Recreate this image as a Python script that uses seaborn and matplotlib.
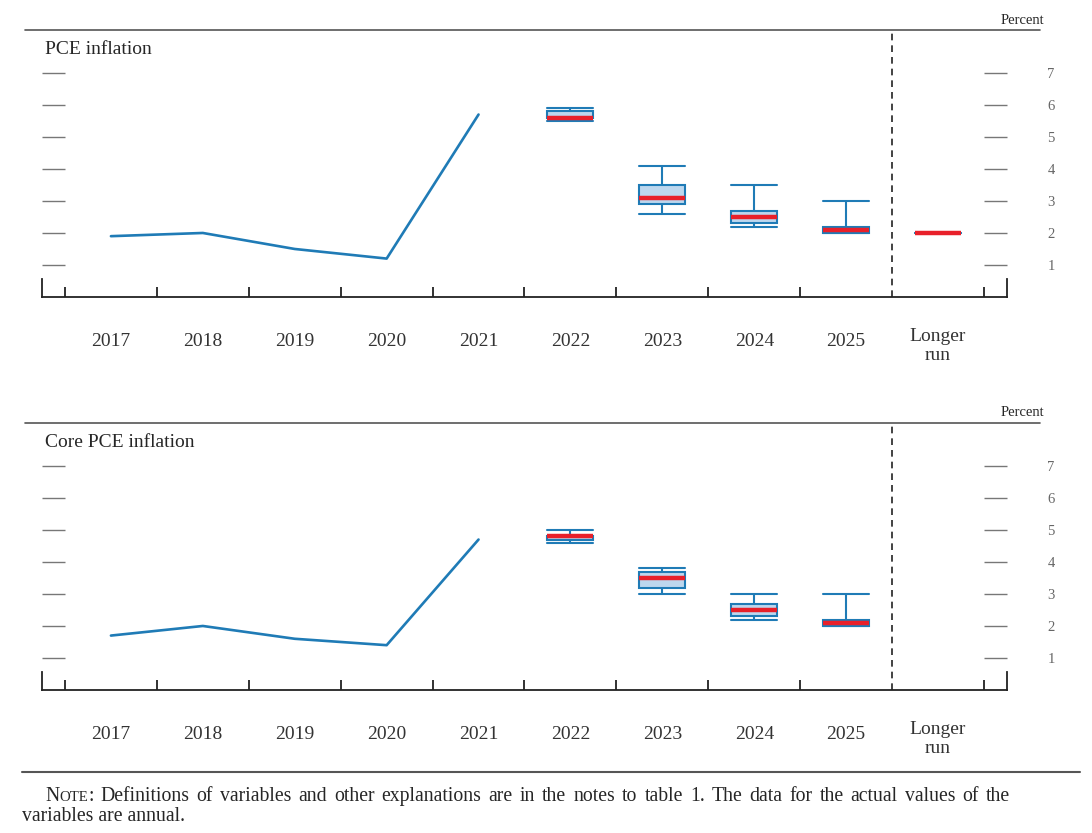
import pandas as pd
import matplotlib
matplotlib.use("Agg")
import matplotlib.pyplot as plt
from matplotlib.lines import Line2D
import seaborn as sns

# categories on the x axis
categories = ["2017", "2018", "2019", "2020", "2021", "2022", "2023", "2024", "2025", "Longer\nrun"]

# actual values
actual_years = ["2017", "2018", "2019", "2020", "2021"]
pce_actual = [1.9, 2.0, 1.5, 1.2, 5.7]
core_actual = [1.7, 2.0, 1.6, 1.4, 4.7]

# projections: range low, central tendency low, median, central tendency high, range high
pce_cats = ["2022", "2023", "2024", "2025", "Longer\nrun"]
pce_low = [5.5, 2.6, 2.2, 2.0, 2.0]
pce_ct_low = [5.6, 2.9, 2.3, 2.0, 2.0]
pce_median = [5.6, 3.1, 2.5, 2.1, 2.0]
pce_ct_high = [5.8, 3.5, 2.7, 2.2, 2.0]
pce_high = [5.9, 4.1, 3.5, 3.0, 2.0]

core_cats = ["2022", "2023", "2024", "2025"]
core_low = [4.6, 3.0, 2.2, 2.0]
core_ct_low = [4.7, 3.2, 2.3, 2.0]
core_median = [4.8, 3.5, 2.5, 2.1]
core_ct_high = [4.8, 3.7, 2.7, 2.2]
core_high = [5.0, 3.8, 3.0, 3.0]

yticks = [1, 2, 3, 4, 5, 6, 7]

line_col = "#1f7bb6"
box_face = "#bdd7ee"
red = "#e8202a"

sns.set_style("white")
plt.rcParams["font.family"] = ["Liberation Serif", "DejaVu Serif"]

W, H = 1092, 833
fig = plt.figure(figsize=(W / 100, H / 100), dpi=100)


def long_frame(cats, lo, ctl, med, cth, hi):
    rows = []
    for i, c in enumerate(cats):
        for v in (lo[i], ctl[i], med[i], cth[i], hi[i]):
            rows.append({"cat": c, "value": v})
    return pd.DataFrame(rows)


def panel(top_px, title, actual, proj):
    bottom_px = top_px + 267
    ax = fig.add_axes([42 / W, 1 - bottom_px / H, 965 / W, 267 / H])
    sns.boxplot(data=proj, x="cat", y="value", order=categories, width=0.5,
                whis=(0, 100), showfliers=False, color=box_face, saturation=1,
                linecolor=line_col, linewidth=1.5,
                medianprops=dict(color=red, linewidth=3.2),
                capwidths=0.5, ax=ax)
    sns.lineplot(x=actual_years, y=actual, color=line_col, linewidth=1.9, ax=ax)

    ax.set_xlim(-0.75, 9.75)
    ax.set_ylim(0, 8.34)
    ax.set_xlabel("")
    ax.set_ylabel("")

    # spines
    ax.spines["top"].set_visible(False)
    for s in ("left", "right"):
        ax.spines[s].set_bounds(0, 0.56)
        ax.spines[s].set_color("#222")
        ax.spines[s].set_linewidth(1.3)
    ax.spines["bottom"].set_color("#222")
    ax.spines["bottom"].set_linewidth(1.3)

    # y ticks as short inner dashes, labels on the right
    ax.set_yticks(yticks)
    ax.set_yticklabels([str(t) for t in yticks])
    ax.tick_params(axis="y", which="major", direction="in", length=16.5, width=1.0,
                   color="#777", left=True, right=True, labelleft=False,
                   labelright=True, labelsize=10.5, labelcolor="#666", pad=29)

    # x labels at category centers, boundary ticks as minor ticks
    ax.set_xticks(range(9))
    ax.set_xticklabels(categories[:9])
    ax.tick_params(axis="x", which="major", length=0, labelsize=14,
                   labelcolor="#333", pad=26)
    ax.set_xticks([-0.5, 0.5, 1.5, 2.5, 3.5, 4.5, 5.5, 6.5, 7.5, 9.5], minor=True)
    ax.tick_params(axis="x", which="minor", direction="in", length=7.5, width=1.3,
                   color="#222", bottom=True)
    ax.text(9, -1.53, categories[9], ha="center", va="center", fontsize=14,
            color="#333", linespacing=1.1)

    ax.axvline(8.5, color="#222", linewidth=1.2, linestyle=(0, (4, 3)))

    # top rule, title and unit label
    fig.add_artist(Line2D([25 / W, 1040 / W], [1 - top_px / H] * 2,
                          color="#555", linewidth=1.2))
    fig.text(1022 / W, 1 - (top_px - 10) / H, "Percent", ha="center",
             va="center", fontsize=10.5)
    fig.text(45 / W, 1 - (top_px + 20) / H, title, ha="left", va="center",
             fontsize=14)
    return ax


panel(30, "PCE inflation", pce_actual,
      long_frame(pce_cats, pce_low, pce_ct_low, pce_median, pce_ct_high, pce_high))
panel(423, "Core PCE inflation", core_actual,
      long_frame(core_cats, core_low, core_ct_low, core_median, core_ct_high, core_high))

# footer note, first line justified between x=45 and x=1010
fig.add_artist(Line2D([22 / W, 1080 / W], [1 - 772 / H] * 2, color="#555", linewidth=1.5))
r = fig.canvas.get_renderer()
note_words = ("Definitions of variables and other explanations are in the notes "
              "to table 1. The data for the actual values of the").split()
x = 45
for txt, size in [("N", 14.2), ("OTE", 10.6), (":", 14.2)]:
    t = fig.text(x / W, 1 - 801 / H, txt, fontsize=size, va="baseline", ha="left")
    x = t.get_window_extent(renderer=r).x1
word_texts = [fig.text(0, 1 - 801 / H, w, fontsize=14.2, va="baseline", ha="left")
              for w in note_words]
widths = [t.get_window_extent(renderer=r).width for t in word_texts]
gap = (1010 - x - sum(widths)) / len(note_words)
for t, w in zip(word_texts, widths):
    x += gap
    t.set_x(x / W)
    x += w
fig.text(22 / W, 1 - 821 / H, "variables are annual.", fontsize=14.2, va="baseline", ha="left")

fig.savefig("out.png", dpi=100)
